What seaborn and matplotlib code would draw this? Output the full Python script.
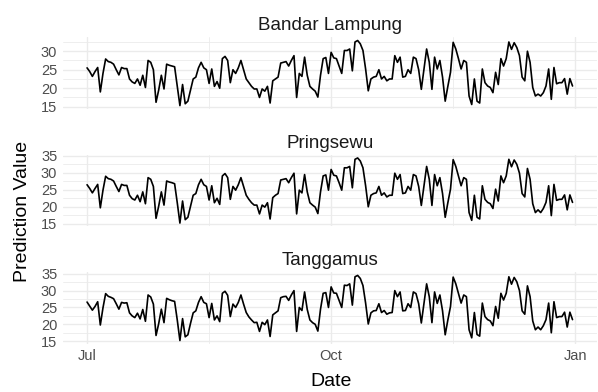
import pandas as pd
import matplotlib.pyplot as plt
import matplotlib.dates as mdates
from matplotlib.ticker import MultipleLocator
import seaborn as sns

# DATA (daily predictions)
dates = pd.date_range("2023-07-01", "2023-12-31", freq="D")
regions = ["Bandar Lampung", "Pringsewu", "Tanggamus"]

bandar_lampung = [
    25.5, 24.5, 23.2, 24.5, 25.6, 19.0, 24.0, 27.9, 27.2, 27.0,
    26.5, 25.0, 23.6, 25.6, 25.3, 25.3, 22.5, 21.7, 21.3, 22.5,
    20.8, 23.5, 20.2, 27.5, 27.0, 25.0, 16.2, 19.5, 23.5, 19.8,
    26.5, 26.2, 26.0, 25.8, 20.5, 15.3, 21.0, 15.8, 16.5, 19.5,
    22.5, 23.0, 25.5, 27.0, 25.5, 25.0, 21.3, 25.2, 20.5, 21.8,
    20.0, 28.0, 28.6, 27.5, 21.5, 25.0, 24.0, 25.5, 27.5, 25.0,
    22.5, 21.5, 20.5, 19.8, 19.8, 17.5, 19.8, 19.2, 20.5, 16.0,
    22.0, 22.5, 23.0, 26.8, 27.0, 27.2, 26.0, 27.5, 28.8, 17.5,
    24.0, 23.2, 28.4, 23.5, 20.5, 19.8, 19.2, 17.6, 23.5, 28.0,
    28.3, 24.0, 29.7, 28.2, 28.0, 26.0, 24.0, 30.2, 30.2, 30.6,
    24.7, 32.5, 32.9, 32.0, 30.2, 25.2, 19.3, 22.5, 23.0, 23.2,
    25.0, 22.5, 23.2, 22.0, 22.5, 22.5, 28.8, 27.0, 28.4, 23.0,
    23.2, 25.0, 24.0, 28.4, 28.0, 25.0, 19.7, 25.2, 30.6, 27.0,
    19.7, 28.4, 25.2, 27.5, 23.0, 16.5, 20.5, 24.3, 32.4, 30.6,
    28.0, 25.2, 27.5, 27.0, 17.9, 15.6, 22.5, 16.5, 16.0, 25.2,
    21.5, 20.6, 20.2, 18.8, 24.3, 21.0, 28.0, 26.0, 28.0, 32.5,
    30.5, 32.3, 31.0, 28.8, 23.0, 22.0, 30.0, 27.0, 20.2, 17.9,
    18.4, 17.9, 18.8, 20.6, 25.2, 17.0, 25.6, 21.2, 21.5, 21.5,
    22.6, 18.4, 22.6, 20.6,
]

pringsewu = [
    26.5, 25.4, 24.1, 25.4, 26.6, 19.7, 24.9, 29.0, 28.3, 28.1,
    27.6, 26.0, 24.5, 26.6, 26.3, 26.3, 23.4, 22.4, 22.0, 23.4,
    21.5, 24.4, 20.9, 28.6, 28.1, 26.0, 16.6, 20.2, 24.4, 20.5,
    27.6, 27.3, 27.1, 26.8, 21.2, 15.2, 21.7, 16.2, 16.9, 20.2,
    23.4, 23.9, 26.5, 28.1, 26.5, 26.0, 22.0, 26.2, 21.2, 22.5,
    20.7, 29.1, 29.8, 28.6, 22.2, 26.0, 24.9, 26.5, 28.6, 26.0,
    23.4, 22.2, 21.2, 20.5, 20.5, 17.9, 20.5, 19.9, 21.2, 16.4,
    22.7, 23.4, 23.9, 27.9, 28.1, 28.3, 27.1, 28.6, 29.9, 17.9,
    24.9, 24.1, 29.5, 24.4, 21.2, 20.5, 19.9, 18.0, 24.4, 29.1,
    29.4, 24.9, 31.0, 29.3, 29.1, 27.1, 24.9, 31.5, 31.5, 31.9,
    25.6, 34.0, 34.4, 33.5, 31.5, 26.2, 20.0, 23.4, 23.9, 24.1,
    26.0, 23.4, 24.1, 22.9, 23.4, 23.4, 29.9, 28.1, 29.5, 23.9,
    24.1, 26.0, 24.9, 29.5, 29.1, 26.0, 20.4, 26.2, 31.9, 28.1,
    20.4, 29.5, 26.2, 28.6, 23.9, 16.9, 21.2, 25.2, 33.9, 31.9,
    29.1, 26.2, 28.6, 28.1, 18.3, 16.0, 23.4, 16.9, 16.4, 26.2,
    22.2, 21.3, 20.9, 19.5, 25.2, 21.7, 29.1, 27.1, 29.1, 34.0,
    31.8, 33.8, 32.5, 29.9, 23.9, 22.9, 31.3, 28.1, 20.9, 18.3,
    19.1, 18.3, 19.5, 21.3, 26.2, 17.4, 26.6, 21.9, 22.2, 22.2,
    23.5, 19.1, 23.5, 21.3,
]

tanggamus = [
    26.6, 25.4, 24.2, 25.3, 26.7, 19.8, 24.9, 29.1, 28.3, 28.0,
    27.6, 26.1, 24.5, 26.5, 26.3, 26.4, 23.4, 22.5, 22.0, 23.3,
    21.6, 24.4, 20.9, 28.7, 28.1, 26.0, 16.7, 20.2, 24.5, 20.5,
    27.7, 27.3, 27.0, 26.8, 21.3, 15.2, 21.7, 16.3, 16.9, 20.3,
    23.4, 24.0, 26.5, 28.2, 26.5, 26.1, 22.0, 26.2, 21.3, 22.5,
    20.8, 29.2, 29.8, 28.6, 22.3, 26.0, 25.0, 26.5, 28.7, 26.0,
    23.5, 22.2, 21.3, 20.5, 20.6, 17.9, 20.6, 19.9, 21.3, 16.4,
    22.8, 23.4, 24.0, 27.9, 28.2, 28.3, 27.1, 28.7, 30.0, 17.9,
    25.0, 24.1, 29.6, 24.4, 21.3, 20.5, 20.0, 18.0, 24.5, 29.2,
    29.4, 25.0, 31.1, 29.3, 29.2, 27.1, 25.0, 31.6, 31.5, 32.0,
    25.7, 34.1, 34.5, 33.6, 31.5, 26.3, 20.1, 23.4, 24.0, 24.1,
    26.1, 23.5, 24.1, 23.0, 23.4, 23.5, 30.0, 28.2, 29.6, 24.0,
    24.1, 26.1, 25.0, 29.6, 29.1, 26.1, 20.4, 26.3, 32.0, 28.2,
    20.5, 29.6, 26.2, 28.7, 24.0, 16.9, 21.3, 25.3, 34.0, 32.0,
    29.2, 26.3, 28.7, 28.2, 18.4, 16.0, 23.5, 17.0, 16.5, 26.3,
    22.3, 21.4, 21.0, 19.6, 25.3, 21.8, 29.2, 27.2, 29.2, 34.1,
    31.9, 33.9, 32.6, 30.0, 24.0, 23.0, 31.4, 28.2, 21.0, 18.4,
    19.2, 18.4, 19.6, 21.4, 26.3, 17.5, 26.7, 22.0, 22.3, 22.3,
    23.6, 19.2, 23.6, 21.4,
]

df = pd.DataFrame({
    "Date": list(dates) * 3,
    "Region": [r for r in regions for _ in dates],
    "Value": bandar_lampung + pringsewu + tanggamus,
})

# PLOTTING
sns.set_theme(style="white")
plt.rcParams["font.family"] = ["Liberation Sans", "DejaVu Sans"]

fig, axes = plt.subplots(3, 1, figsize=(5.98, 3.92), dpi=100, sharex=True)
fig.subplots_adjust(left=0.105, right=0.998, top=0.905, bottom=0.123, hspace=0.64)

pad = pd.Timedelta(days=9.15)
major_dates = pd.to_datetime(["2023-07-01", "2023-10-01", "2024-01-01"])
minor_dates = pd.to_datetime(["2023-08-16", "2023-11-16"])

for ax, region in zip(axes, regions):
    sub = df[df["Region"] == region]
    sns.lineplot(data=sub, x="Date", y="Value", ax=ax, color="black", linewidth=1.2)
    ax.set_title(region, fontsize=13.5, color="#1a1a1a", pad=5)
    ax.set_xlabel("")
    ax.set_ylabel("")
    ax.set_xlim(dates[0] - pad, dates[-1] + pad)
    ax.margins(y=0.05)

    ax.yaxis.set_major_locator(MultipleLocator(5))
    ax.yaxis.set_minor_locator(MultipleLocator(2.5))
    ax.set_xticks(major_dates)
    ax.set_xticks(minor_dates, minor=True)
    ax.xaxis.set_major_formatter(mdates.DateFormatter("%b"))

    ax.grid(which="major", color="#ebebeb", linewidth=1.0)
    ax.grid(which="minor", color="#ebebeb", linewidth=0.6)
    ax.set_axisbelow(True)
    for s in ax.spines.values():
        s.set_visible(False)
    ax.tick_params(which="both", length=0, labelsize=10.5, labelcolor="#4d4d4d", pad=4)

fig.text(0.037, 0.46, "Prediction Value", rotation=90, ha="center", va="center",
         fontsize=14, color="black")
fig.text(0.553, 0.028, "Date", ha="center", va="center", fontsize=14, color="black")

plt.savefig("out.png", dpi=100)
